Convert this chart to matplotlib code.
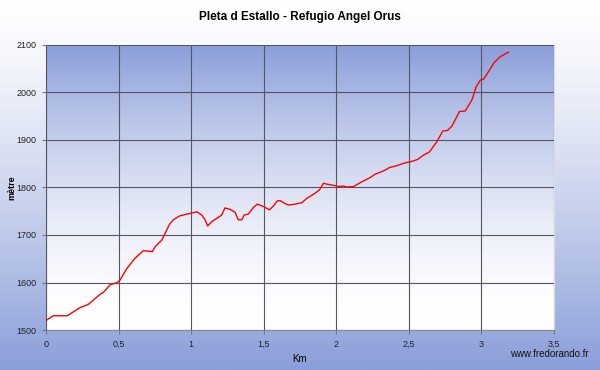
import matplotlib
matplotlib.use("Agg")
import matplotlib.pyplot as plt
import numpy as np
from matplotlib.colors import LinearSegmentedColormap

plt.rcParams['font.family'] = ['Liberation Sans', 'DejaVu Sans']

# distance (km) and altitude (m)
km = [0.0, 0.05, 0.147, 0.234, 0.292, 0.372, 0.395, 0.441, 0.491, 0.51, 0.556,
      0.613, 0.671, 0.733, 0.751, 0.797, 0.82, 0.85, 0.877, 0.919, 0.97, 1.004,
      1.038, 1.073, 1.096, 1.114, 1.142, 1.21, 1.233, 1.268, 1.302, 1.325, 1.349,
      1.365, 1.394, 1.429, 1.456, 1.498, 1.539, 1.567, 1.594, 1.617, 1.636, 1.67,
      1.716, 1.762, 1.797, 1.854, 1.884, 1.912, 1.935, 1.992, 2.015, 2.05, 2.073,
      2.119, 2.176, 2.234, 2.268, 2.326, 2.367, 2.418, 2.475, 2.509, 2.56, 2.6,
      2.642, 2.692, 2.734, 2.766, 2.796, 2.849, 2.888, 2.934, 2.964, 2.992, 3.015,
      3.049, 3.088, 3.128, 3.186]
alt = [1520, 1530, 1530, 1547, 1554, 1575, 1579, 1595, 1600, 1605, 1629,
       1651, 1667, 1665, 1675, 1689, 1703, 1722, 1732, 1740, 1744, 1746,
       1749, 1742, 1732, 1719, 1728, 1742, 1757, 1754, 1748, 1732, 1732,
       1742, 1744, 1758, 1765, 1760, 1753, 1761, 1772, 1772, 1768, 1763,
       1765, 1768, 1777, 1788, 1795, 1809, 1807, 1804, 1802, 1803, 1801,
       1802, 1812, 1821, 1828, 1835, 1842, 1846, 1852, 1854, 1859, 1868,
       1875, 1896, 1919, 1920, 1929, 1960, 1961, 1984, 2012, 2026, 2028,
       2044, 2063, 2075, 2085]

xticks = [0, 0.5, 1, 1.5, 2, 2.5, 3, 3.5]
xlabels = ['0', '0,5', '1', '1,5', '2', '2,5', '3', '3,5']
yticks = [1500, 1600, 1700, 1800, 1900, 2000, 2100]

blue = '#8a9ed9'
grad = LinearSegmentedColormap.from_list('g', ['white', blue])
ramp = np.linspace(0, 1, 256).reshape(-1, 1)

fig = plt.figure(figsize=(6, 3.7), dpi=100)

# figure background: white at top, blue at bottom
bg = fig.add_axes([0, 0, 1, 1], zorder=-10)
bg.imshow(ramp ** 1.3, cmap=grad, aspect='auto', extent=[0, 1, 0, 1],
          origin='upper', vmin=0, vmax=1)
bg.set_axis_off()

ax = fig.add_axes([46/600, 1 - 330/370, 508/600, 285/370])
# plot area: blue at top, white at bottom
ax.imshow(ramp ** 1.7, cmap=grad, aspect='auto', extent=[0, 3.5, 1500, 2100],
          origin='lower', zorder=0, vmin=0, vmax=1)
ax.plot(km, alt, color='red', lw=1, zorder=3)

ax.set_xlim(0, 3.5)
ax.set_ylim(1500, 2100)
ax.set_xticks(xticks)
ax.set_xticklabels(xlabels)
ax.set_yticks(yticks)
ax.grid(True, color='#555566', lw=0.8, zorder=2)
ax.set_axisbelow(False)
ax.tick_params(labelsize=6.5, length=3, color='#777777', labelcolor='#222222', pad=4)
for side in ['top', 'right']:
    ax.spines[side].set_color('#dddddd')
for side in ['left', 'bottom']:
    ax.spines[side].set_color('#888888')

ax.set_xlabel('Km', fontsize=7, labelpad=4)
ax.set_ylabel('mètre', fontsize=6.5, fontweight='bold', va='center')
ax.yaxis.set_label_coords((12 - 46) / 508, 0.5)
fig.text(0.5, 1 - 17/370, 'Pleta d Estallo - Refugio Angel Orus', ha='center',
         va='center', fontsize=8.5, fontweight='bold')
fig.text(589/600, 1 - 354/370, 'www.fredorando.fr', ha='right', va='center',
         fontsize=7, color='#111111')

fig.savefig('out.png', dpi=100)
